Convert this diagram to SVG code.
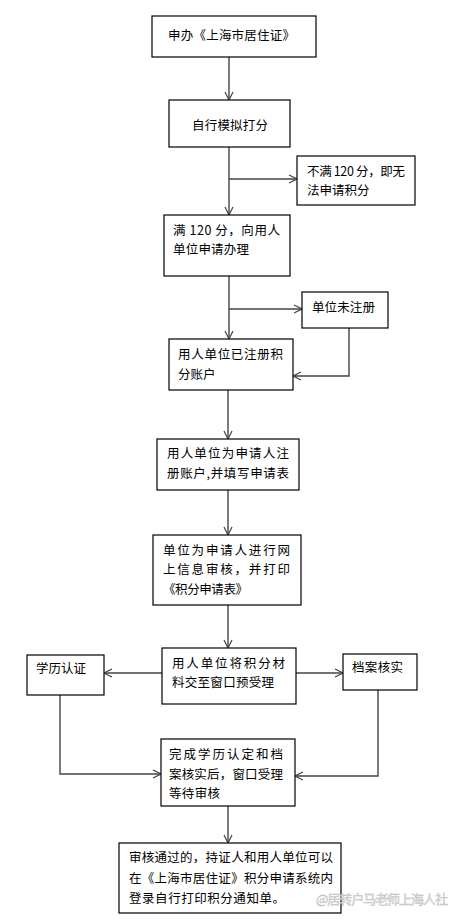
<svg xmlns="http://www.w3.org/2000/svg" width="458" height="920" viewBox="0 0 458 920">
<defs>
<style>
.box{fill:#fff;stroke:#000;stroke-width:1.2}
.t{font-family:"Noto Sans CJK SC","Liberation Sans",sans-serif;font-size:12.5px;fill:#000}
.c{fill:none;stroke:#444;stroke-width:1.4}
.wm{font-family:"Noto Sans CJK SC","Liberation Sans",sans-serif;font-size:13px;fill:#e0e0e0;stroke:#bbb;stroke-width:0.4}
</style>
<marker id="ah" markerWidth="10" markerHeight="10" refX="9" refY="5" orient="auto" markerUnits="userSpaceOnUse">
<path d="M1,1 L9,5 L1,9" fill="none" stroke="#444" stroke-width="1.2"/>
</marker>
</defs>
<rect width="458" height="920" fill="#fff"/>
<g id="connectors">
<path class="c" d="M229,57 V100" marker-end="url(#ah)"/>
<path class="c" d="M229,147 V215" marker-end="url(#ah)"/>
<path class="c" d="M229,179 H297" marker-end="url(#ah)"/>
<path class="c" d="M229,276 V339" marker-end="url(#ah)"/>
<path class="c" d="M229,309 H302" marker-end="url(#ah)"/>
<path class="c" d="M349,328 V376 H293" marker-end="url(#ah)"/>
<path class="c" d="M228,390 V439" marker-end="url(#ah)"/>
<path class="c" d="M228,490 V535" marker-end="url(#ah)"/>
<path class="c" d="M228,605 V648" marker-end="url(#ah)"/>
<path class="c" d="M162,673 H104" marker-end="url(#ah)"/>
<path class="c" d="M296,673 H343" marker-end="url(#ah)"/>
<path class="c" d="M60,695 V774 H161" marker-end="url(#ah)"/>
<path class="c" d="M378,690 V776 H295" marker-end="url(#ah)"/>
<path class="c" d="M228,806 V843" marker-end="url(#ah)"/>
</g>
<g id="n1"><rect class="box" x="152" y="16" width="164" height="41"/>
<text class="t" x="168" y="40" textLength="127" lengthAdjust="spacing">申办《上海市居住证》</text></g>
<g id="n2"><rect class="box" x="169" y="100" width="121" height="47"/>
<text class="t" x="192" y="130" textLength="76" lengthAdjust="spacing">自行模拟打分</text></g>
<g id="n3"><rect class="box" x="297" y="156" width="118" height="49"/>
<text class="t" x="307" y="176" textLength="98" lengthAdjust="spacing">不满 120 分，即无</text>
<text class="t" x="307" y="195">法申请积分</text></g>
<g id="n4"><rect class="box" x="164" y="215" width="126" height="61"/>
<text class="t" x="173" y="235" textLength="107" lengthAdjust="spacing">满 120 分，向用人</text>
<text class="t" x="173" y="254" textLength="76" lengthAdjust="spacing">单位申请办理</text></g>
<g id="n5"><rect class="box" x="302" y="292" width="86" height="36"/>
<text class="t" x="312" y="312" textLength="63" lengthAdjust="spacing">单位未注册</text></g>
<g id="n6"><rect class="box" x="169" y="339" width="124" height="51"/>
<text class="t" x="178" y="359" textLength="105" lengthAdjust="spacing">用人单位已注册积</text>
<text class="t" x="178" y="379">分账户</text></g>
<g id="n7"><rect class="box" x="157" y="439" width="142" height="51"/>
<text class="t" x="167" y="458" textLength="122" lengthAdjust="spacing">用人单位为申请人注</text>
<text class="t" x="167" y="478" textLength="122" lengthAdjust="spacing">册账户,并填写申请表</text></g>
<g id="n8"><rect class="box" x="153" y="535" width="148" height="70"/>
<text class="t" x="163" y="555" textLength="127" lengthAdjust="spacing">单位为申请人进行网</text>
<text class="t" x="163" y="574" textLength="127" lengthAdjust="spacing">上信息审核，并打印</text>
<text class="t" x="163" y="594" textLength="85" lengthAdjust="spacing">《积分申请表》</text></g>
<g id="n9"><rect class="box" x="162" y="648" width="134" height="56"/>
<text class="t" x="172" y="668" textLength="113" lengthAdjust="spacing">用人单位将积分材</text>
<text class="t" x="172" y="687" textLength="102" lengthAdjust="spacing">料交至窗口预受理</text></g>
<g id="n10"><rect class="box" x="27" y="655" width="77" height="40"/>
<text class="t" x="36" y="673" textLength="50" lengthAdjust="spacing">学历认证</text></g>
<g id="n11"><rect class="box" x="343" y="654" width="74" height="36"/>
<text class="t" x="352" y="672" textLength="51" lengthAdjust="spacing">档案核实</text></g>
<g id="n12"><rect class="box" x="161" y="739" width="134" height="67"/>
<text class="t" x="169" y="759" textLength="114" lengthAdjust="spacing">完成学历认定和档</text>
<text class="t" x="169" y="779" textLength="114" lengthAdjust="spacing">案核实后，窗口受理</text>
<text class="t" x="169" y="798" textLength="51" lengthAdjust="spacing">等待审核</text></g>
<g id="n13"><rect class="box" x="119" y="843" width="222" height="70"/>
<text class="t" x="129" y="862" textLength="204" lengthAdjust="spacing">审核通过的，持证人和用人单位可以</text>
<text class="t" x="129" y="883" textLength="204" lengthAdjust="spacing">在《上海市居住证》积分申请系统内</text>
<text class="t" x="129" y="903" textLength="156" lengthAdjust="spacing">登录自行打印积分通知单。</text></g>
<text class="wm" x="316" y="904" textLength="132" lengthAdjust="spacing">@居转户马老师上海人社</text>
</svg>
